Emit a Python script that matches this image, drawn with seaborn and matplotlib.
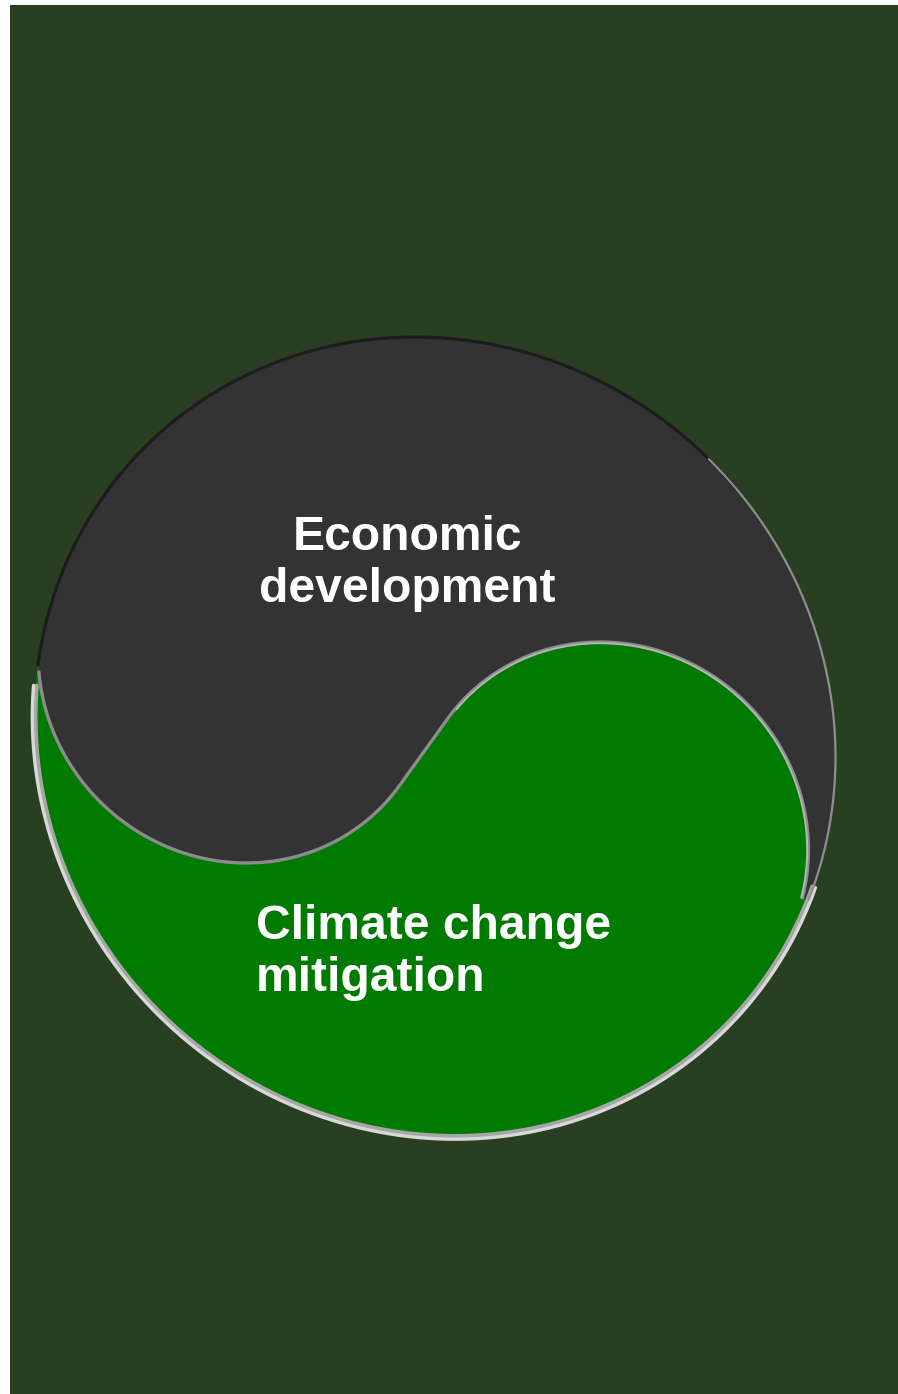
import numpy as np
import matplotlib
matplotlib.use("Agg")
import matplotlib.pyplot as plt
import seaborn as sns
import pandas as pd
from matplotlib.patches import Rectangle, Polygon

# ---- content ----
top_label = ["Economic", "development"]
bottom_label = ["Climate change", "mitigation"]

# ---- colours ----
BG = "#284021"
DARK = "#333333"
GREEN = "#007A00"

# ---- geometry of the yin-yang (pixel units) ----
W, H = 898, 1394
CENTER = (435.0, 737.0)
R = 400.0
SKEW = 0.05
LOBE_DARK = (240.0, 665.0)
LOBE_GREEN = (605.0, 840.0)
LOBE_R = 198.0

sns.set_theme(style="white")
plt.rcParams["font.family"] = ["Liberation Sans", "DejaVu Sans"]

fig = plt.figure(figsize=(W / 100, H / 100), dpi=100)
fig.patch.set_facecolor("white")
ax = fig.add_axes([0, 0, 1, 1])

ax.add_patch(Rectangle((10, 5), W - 10, H - 5, facecolor=BG, edgecolor="none", zorder=0))


def arc(c, r, a0, a1, n=300):
    t = np.radians(np.linspace(a0, a1, n))
    return c[0] + r * np.cos(t), c[1] + r * np.sin(t)


def skew(x, y):
    return x + SKEW * (y - CENTER[1]), y


dx, dy = LOBE_GREEN[0] - LOBE_DARK[0], LOBE_GREEN[1] - LOBE_DARK[1]
dist = np.hypot(dx, dy)
theta = np.degrees(np.arctan2(dy, dx))
alpha = np.degrees(np.arccos(min(1.0, 2 * LOBE_R / dist)))
t1 = theta + alpha            # leaving angle on the dark lobe
t2 = 180 + theta + alpha      # arriving angle on the green lobe
phiA = 180 + np.degrees(np.arcsin((CENTER[1] - LOBE_DARK[1]) / R))
phiB = 24.0
psiB = 17.0


def cat(*parts):
    xs = np.concatenate([p[0] for p in parts])
    ys = np.concatenate([p[1] for p in parts])
    return skew(xs, ys)


dark_x, dark_y = cat(
    arc(CENTER, R, phiA, 360 + phiB),
    arc(LOBE_GREEN, LOBE_R, 360 + psiB, t2),
    arc(LOBE_DARK, LOBE_R, t1, 180),
)
green_x, green_y = cat(
    arc(CENTER, R, phiB, phiA),
    arc(LOBE_DARK, LOBE_R, 180, t1),
    arc(LOBE_GREEN, LOBE_R, t2, 360 + psiB),
)

ax.add_patch(Polygon(np.column_stack([green_x, green_y]), closed=True,
                     facecolor=GREEN, edgecolor="none", zorder=2))
ax.add_patch(Polygon(np.column_stack([dark_x, dark_y]), closed=True,
                     facecolor=DARK, edgecolor="none", zorder=3))


def edge(parts, color, lw, z=5):
    x, y = cat(*parts)
    df = pd.DataFrame({"x": x, "y": y})
    sns.lineplot(data=df, x="x", y="y", sort=False, estimator=None, color=color,
                 linewidth=lw, ax=ax, zorder=z, legend=False,
                 solid_capstyle="round", solid_joinstyle="round")


# outer outlines
edge([arc(CENTER, R, phiA, 322)], "#1c1c1c", 2.3)
edge([arc(CENTER, R, 316, 360 + phiB)], "#8e8e8e", 1.6)
edge([arc(CENTER, R - 0.8, phiB - 2, phiA - 3)], "#a6a6a6", 3.2, z=4)
edge([arc(CENTER, R + 2.2, phiB - 2, phiA - 3)], "#d8d8d8", 2.4, z=4)
# S-curve (one smooth path)
edge([arc(LOBE_DARK, LOBE_R, 178, t1),
      arc(LOBE_GREEN, LOBE_R, t2, 360 + psiB)], "#8c8c8c", 2.4)
edge([arc(LOBE_GREEN, LOBE_R - 1.2, t2 + 4, 360 + psiB)], "#b5b5b5", 1.4)

ax.set_xlim(0, W)
ax.set_ylim(H, 0)
ax.axis("off")

txt = dict(color="white", fontsize=34.6, fontweight="bold", va="baseline", zorder=10)
ax.text(407, 550, top_label[0], ha="center", **txt)
ax.text(407, 602, top_label[1], ha="center", **txt)
ax.text(256, 939, bottom_label[0], ha="left", **txt)
ax.text(256, 991, bottom_label[1], ha="left", **txt)

fig.savefig("out.png", dpi=100, facecolor=fig.get_facecolor())
